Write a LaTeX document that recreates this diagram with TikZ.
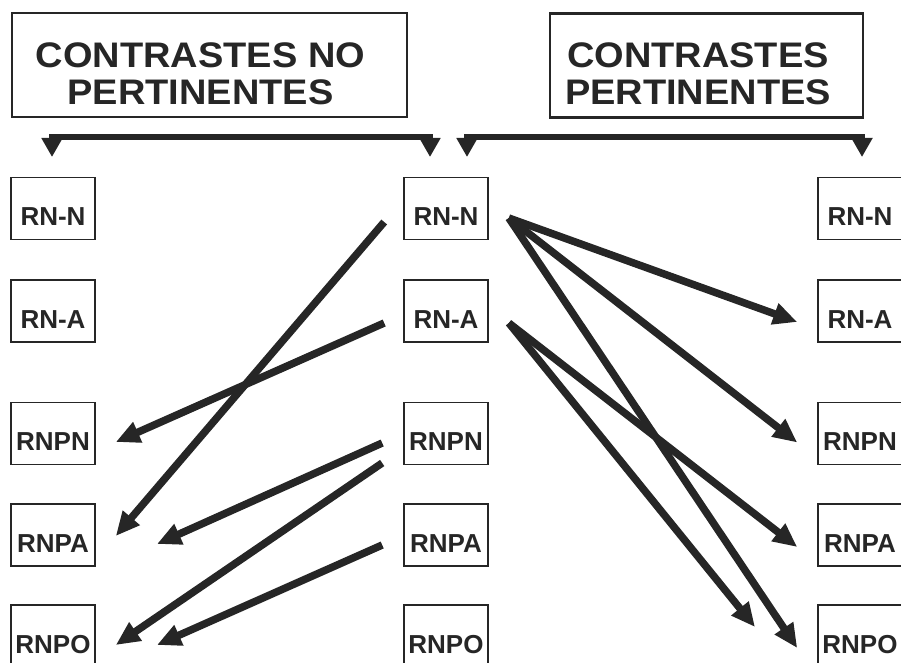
\documentclass[tikz,border=0pt]{standalone}
\usepackage{fontspec}
\setmainfont{Liberation Sans}
\newfontfamily\headfont{Liberation Sans}[FakeStretch=1.07]
\usetikzlibrary{arrows.meta,calc}
\definecolor{ink}{HTML}{262626}
\tikzset{
  titlebox/.style={draw=ink, line width=2.6pt, inner sep=0pt, minimum width=395pt, minimum height=104pt},
  titletext/.style={text=ink, align=center, inner sep=0pt, font=\headfont\bfseries\fontsize{35.5}{37}\selectfont},
  termbox/.style={draw=ink, line width=1.6pt, inner xsep=0pt, inner ysep=0pt, minimum width=84pt,
    text height=48pt, text depth=14pt, text=ink, font=\bfseries\fontsize{26}{26}\selectfont},
  link/.style={draw=ink, line width=7.5pt, -{Triangle[length=24pt,width=21pt]}},
  brace/.style={draw=ink, line width=6pt, {Triangle[length=19pt,width=20pt]}-{Triangle[length=19pt,width=20pt]}}
}
\begin{document}
\begin{tikzpicture}[x=1pt, y=-1pt]
\useasboundingbox (0,0) rectangle (901,663);
\begin{scope}
\clip (0,0) rectangle (901,663);

% headings
\node[titlebox, minimum width=395pt] (hNo) at (209.5,65) {};
\node[titletext] (hNoText) at (200.5,74) {CONTRASTES NO\\PERTINENTES};
\node[titlebox, minimum width=313pt] (hSi) at (706.5,65.5) {};
\node[titletext] (hSiText) at (698,74) {CONTRASTES\\PERTINENTES};

% brackets under the headings
\coordinate (bNoL) at (52,157);
\coordinate (bNoR) at (430,157);
\coordinate (bSiL) at (467,157);
\coordinate (bSiR) at (862,157);
\draw[brace] (bNoL) -- ($(bNoL)+(0,-20)$) -- ($(bNoR)+(0,-20)$) -- (bNoR);
\draw[brace] (bSiL) -- ($(bSiL)+(0,-20)$) -- ($(bSiR)+(0,-20)$) -- (bSiR);

% three columns of terms
\foreach \col/\x in {l/53, m/446, r/860}{
  \node[termbox] (\col RNN)  at (\x,208.5) {RN-N};
  \node[termbox] (\col RNA)  at (\x,311)   {RN-A};
  \node[termbox] (\col RNPN) at (\x,433.5) {RNPN};
  \node[termbox] (\col RNPA) at (\x,535)   {RNPA};
  \node[termbox] (\col RNPO) at (\x,636)   {RNPO};
}

% free arrow ends
\coordinate (fA) at (157,544);
\coordinate (fB) at (157,645);
\coordinate (fC) at (755,627);

% non-distinctive contrasts (towards the left)
\draw[link] ($(mRNN.west)+(-19,13.5)$)  -- ($(lRNPA.east)+(20,1)$);
\draw[link] ($(mRNA.west)+(-19,12)$)    -- ($(lRNPN.east)+(20,8.5)$);
\draw[link] ($(mRNPN.west)+(-21,9.5)$)  -- (fA);
\draw[link] ($(mRNPN.west)+(-21,29.5)$) -- ($(lRNPO.east)+(20,9)$);
\draw[link] ($(mRNPA.west)+(-21,10)$)   -- (fB);

% distinctive contrasts (towards the right)
\draw[link] ($(mRNN.east)+(20,9.5)$) -- ($(rRNA.west)+(-20,11)$);
\draw[link] ($(mRNN.east)+(20,9.5)$) -- ($(rRNPN.west)+(-20,9)$);
\draw[link] ($(mRNN.east)+(20,9.5)$) -- ($(rRNPO.west)+(-20,12)$);
\draw[link] ($(mRNA.east)+(20,12)$)  -- (fC);
\draw[link] ($(mRNA.east)+(20,12)$)  -- ($(rRNPA.west)+(-20,12)$);
\end{scope}
\end{tikzpicture}
\end{document}
